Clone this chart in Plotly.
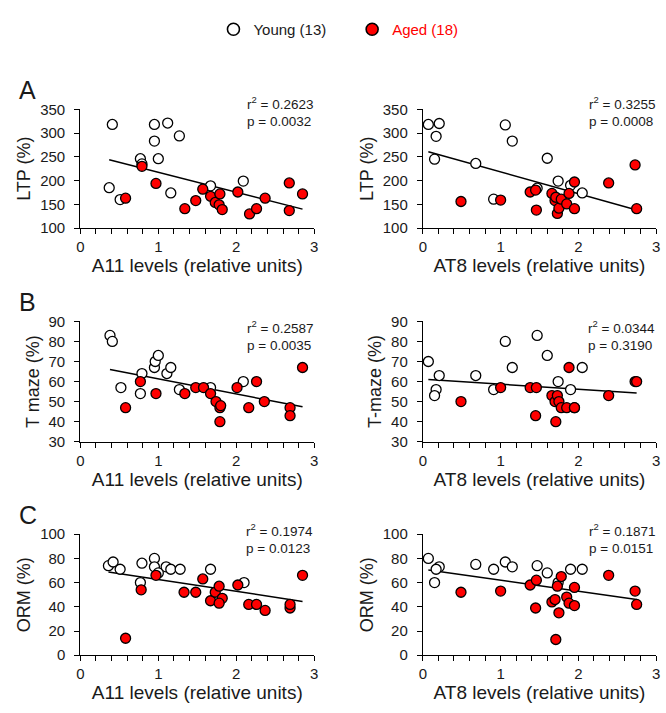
import numpy as np
import plotly.graph_objects as go

W, H = 666, 713

# ---------------- data ----------------
# Panel A, left: LTP vs A11
ltp_a11_young_x = [0.41, 0.37, 0.51, 0.77, 0.79, 0.95, 1.12, 0.95, 1.00, 1.27, 1.16, 1.67, 2.09]
ltp_a11_young_y = [318, 185, 160, 246, 235, 318, 321, 283, 246, 294, 174, 189, 199]
ltp_a11_aged_x = [0.58, 0.79, 0.97, 1.34, 1.48, 1.57, 1.67, 1.73, 1.79, 1.78, 1.82, 2.02, 2.17, 2.26, 2.37, 2.68, 2.68, 2.85]
ltp_a11_aged_y = [163, 230, 194, 141, 158, 182, 167, 154, 172, 149, 139, 176, 130, 141, 163, 195, 137, 172]

# Panel A, right: LTP vs AT8
at8_young_x = [0.07, 0.21, 0.17, 0.15, 0.68, 0.91, 1.06, 1.15, 1.47, 1.60, 1.74, 1.90, 2.05]
at8_aged_x = [0.49, 1.00, 1.38, 1.46, 1.45, 1.66, 1.70, 1.71, 1.73, 1.75, 1.78, 1.85, 1.88, 1.95, 1.95, 2.39, 2.73, 2.75]
ltp_at8_young_y = [318, 320, 293, 245, 236, 161, 317, 283, 184, 247, 199, 190, 174]
ltp_at8_aged_y = [156, 159, 176, 138, 180, 173, 158, 165, 131, 142, 161, 151, 173, 197, 141, 195, 233, 141]

# Panel B, left: T maze vs A11
tm_a11_young_x = [0.38, 0.41, 0.52, 0.77, 0.79, 0.95, 0.96, 1.00, 1.11, 1.16, 1.27, 1.67, 2.09]
tm_a11_young_y = [83, 80, 57, 54, 64, 67, 70, 73, 64, 67, 56, 57, 60]
tm_a11_aged_x = [0.58, 0.77, 0.97, 1.34, 1.48, 1.58, 1.67, 1.74, 1.79, 1.80, 1.79, 2.01, 2.16, 2.26, 2.36, 2.69, 2.69, 2.85]
tm_a11_aged_y = [47, 60, 54, 54, 57, 57, 54, 50, 47, 48, 40, 57, 47, 60, 50, 47, 43, 67]

# Panel B, right: T-maze vs AT8
tm_at8_young_y = [70, 63, 56, 53, 63, 56, 80, 67, 83, 73, 60, 56, 67]
tm_at8_aged_y = [50, 57, 57, 57, 43, 53, 50, 40, 53, 50, 47, 47, 67, 47, 47, 53, 60, 60]

# Panel C, left: ORM vs A11
orm_a11_young_x = [0.36, 0.42, 0.51, 0.79, 0.77, 0.95, 0.95, 1.00, 1.10, 1.16, 1.28, 1.67, 2.10]
orm_a11_young_y = [74, 77, 71, 76, 60, 80, 73, 68, 73, 71, 71, 71, 60]
orm_a11_aged_x = [0.58, 0.78, 0.97, 1.33, 1.48, 1.57, 1.67, 1.73, 1.78, 1.82, 1.78, 2.02, 2.16, 2.26, 2.37, 2.69, 2.69, 2.85]
orm_a11_aged_y = [14, 54, 66, 52, 52, 63, 45, 52, 57, 47, 43, 58, 42, 42, 37, 39, 42, 66]

# Panel C, right: ORM vs AT8
orm_at8_young_y = [80, 73, 71, 60, 75, 71, 77, 73, 74, 68, 60, 71, 71]
orm_at8_aged_y = [52, 53, 58, 62, 39, 44, 46, 13, 57, 35, 65, 48, 43, 56, 41, 66, 53, 42]

stats_text = ["r<sup>2</sup> = 0.2623<br>p = 0.0032", "r<sup>2</sup> = 0.3255<br>p = 0.0008",
              "r<sup>2</sup> = 0.2587<br>p = 0.0035", "r<sup>2</sup> = 0.0344<br>p = 0.3190",
              "r<sup>2</sup> = 0.1974<br>p = 0.0123", "r<sup>2</sup> = 0.1871<br>p = 0.0151"]
x_titles = ["A11 levels (relative units)", "AT8 levels (relative units)"]
y_titles = ["LTP (%)", "LTP (%)", "T maze (%)", "T-maze (%)", "ORM (%)", "ORM (%)"]
y_ranges = [[100, 350], [100, 350], [30, 90], [30, 90], [0, 100], [0, 100]]
y_dticks = [50, 50, 10, 10, 20, 20]
panel_letters = ["A", "B", "C"]
legend_names = ["Young (13)", "Aged (18)"]

panels = [
    (ltp_a11_young_x, ltp_a11_young_y, ltp_a11_aged_x, ltp_a11_aged_y),
    (at8_young_x, ltp_at8_young_y, at8_aged_x, ltp_at8_aged_y),
    (tm_a11_young_x, tm_a11_young_y, tm_a11_aged_x, tm_a11_aged_y),
    (at8_young_x, tm_at8_young_y, at8_aged_x, tm_at8_aged_y),
    (orm_a11_young_x, orm_a11_young_y, orm_a11_aged_x, orm_a11_aged_y),
    (at8_young_x, orm_at8_young_y, at8_aged_x, orm_at8_aged_y),
]

# ---------------- layout geometry (pixels) ----------------
col_px = [(77.3, 314.0), (424.0, 660.0)]
row_px = [(102.7, 224.5), (320.0, 443.3), (538.0, 662.0)]
letter_y = [83, 300, 518]
stats_y = [105.4, 334, 542.5]

RED = "#FF0000"
FONT = "Liberation Sans, Arial, sans-serif"
TXT = "#1a1a1a"
NBSP = "\u00a0"

fig = go.Figure()
layout = {}
annotations = []

for i, (yx, yy, ax, ay) in enumerate(panels):
    r, c = divmod(i, 2)
    n = i + 1
    xa = "x" if n == 1 else f"x{n}"
    ya = "y" if n == 1 else f"y{n}"
    allx = np.array(yx + ax, dtype=float)
    ally = np.array(yy + ay, dtype=float)
    slope, intercept = np.polyfit(allx, ally, 1)
    lx = np.array([allx.min(), allx.max()])
    fig.add_trace(go.Scatter(x=lx, y=slope * lx + intercept, mode="lines",
                             line=dict(color="black", width=1.5),
                             xaxis=xa, yaxis=ya, showlegend=False, hoverinfo="skip"))
    fig.add_trace(go.Scatter(x=yx, y=yy, mode="markers",
                             marker=dict(size=10, color="white", line=dict(color="black", width=1.3)),
                             xaxis=xa, yaxis=ya, showlegend=False, cliponaxis=False))
    fig.add_trace(go.Scatter(x=ax, y=ay, mode="markers",
                             marker=dict(size=10, color=RED, line=dict(color="black", width=1.3)),
                             xaxis=xa, yaxis=ya, showlegend=False, cliponaxis=False))

    x0, x1 = col_px[c]
    ytop, ybot = row_px[r]
    axis_common = dict(showline=True, linecolor="black", linewidth=1.3, ticks="outside",
                       ticklen=5, tickwidth=1.2, tickcolor="black", showgrid=False,
                       zeroline=False, ticklabeloverflow="allow",
                       tickfont=dict(size=15, color=TXT, family=FONT))
    layout["xaxis" if n == 1 else f"xaxis{n}"] = dict(
        axis_common, domain=[x0 / W, x1 / W], anchor=ya, range=[0, 3], dtick=1, tick0=0,
        minor=dict(dtick=0.2, tick0=0, ticks="outside", ticklen=5, tickwidth=1, tickcolor="black"),
        title=dict(text=x_titles[c], font=dict(size=19, color=TXT, family=FONT), standoff=4))
    layout["yaxis" if n == 1 else f"yaxis{n}"] = dict(
        axis_common, domain=[1 - ybot / H, 1 - ytop / H], anchor=xa, range=y_ranges[i],
        dtick=y_dticks[i], tick0=0, ticklabelstandoff=6,
        title=dict(text=y_titles[i], font=dict(size=18, color=TXT, family=FONT), standoff=4))
    annotations.append(dict(text=stats_text[i], xref="paper", yref="paper",
                            x=(x1 + 0.5) / W, y=1 - stats_y[r] / H, xanchor="right", yanchor="middle",
                            align="left", showarrow=False,
                            font=dict(size=13.5, color=TXT, family=FONT)))

for r, letter in enumerate(panel_letters):
    annotations.append(dict(text=letter, xref="paper", yref="paper", x=24 / W, y=1 - letter_y[r] / H,
                            xanchor="center", yanchor="middle", showarrow=False,
                            font=dict(size=25, color=TXT, family=FONT)))

# legend entries
fig.add_trace(go.Scatter(x=[None], y=[None], mode="markers", name=legend_names[0] + NBSP * 5,
                         marker=dict(size=12, color="white", line=dict(color="black", width=1.6))))
fig.add_trace(go.Scatter(x=[None], y=[None], mode="markers",
                         name=f"<span style='color:{RED}'>{legend_names[1]}</span>",
                         marker=dict(size=12, color=RED, line=dict(color="black", width=1.6))))

fig.update_layout(
    width=W, height=H, margin=dict(l=0, r=0, t=0, b=0),
    paper_bgcolor="white", plot_bgcolor="white",
    font=dict(family=FONT, color=TXT),
    showlegend=True,
    legend=dict(orientation="h", x=212 / W, xanchor="left", y=1 - 21 / H, yanchor="middle",
                font=dict(size=15, color=TXT, family=FONT), itemwidth=30, bgcolor="rgba(0,0,0,0)"),
    annotations=annotations,
    **layout,
)

fig.write_html("out.html", config={"displayModeBar": False},
               post_script="document.body.style.margin='0';document.body.style.overflow='hidden';")
